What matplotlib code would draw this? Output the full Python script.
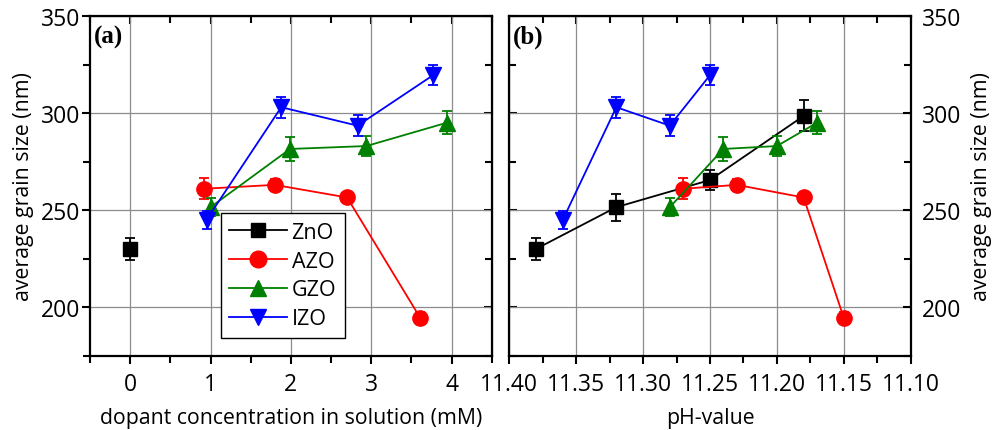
import matplotlib.pyplot as plt
from matplotlib.lines import Line2D
from matplotlib.ticker import MultipleLocator

plt.rcParams['font.family'] = ['Open Sans', 'DejaVu Sans']

# dopant concentration (mM) -> grain size (nm)
conc_zno = [0.0]
size_zno_a = [230]
err_zno_a = [5.5]

conc_azo = [0.92, 1.80, 2.70, 3.61]
size_azo = [261, 263, 256.5, 194.5]
err_azo = [5.5, 3, 3, 3]

conc_gzo = [1.00, 1.99, 2.94, 3.94]
size_gzo = [251.5, 281.5, 283, 295]
err_gzo = [4.5, 6, 5, 6]

conc_izo = [0.95, 1.88, 2.83, 3.77]
size_izo = [245, 303, 293.5, 319.5]
err_izo = [4.5, 5.5, 5.5, 5]

# pH value -> grain size (nm)
ph_zno = [11.38, 11.32, 11.25, 11.18]
size_zno_b = [230, 251.5, 265.5, 298.5]
err_zno_b = [5.5, 7, 5, 8]

ph_azo = [11.27, 11.23, 11.18, 11.15]
ph_gzo = [11.28, 11.24, 11.20, 11.17]
ph_izo = [11.36, 11.32, 11.28, 11.25]

labels = ["ZnO", "AZO", "GZO", "IZO"]
colors = ["black", "red", "green", "blue"]
markers = ["s", "o", "^", "v"]
msizes = [9.5, 11, 11, 11]

fig = plt.figure(figsize=(9.98, 4.31), dpi=100)
ax1 = fig.add_axes([0.0902, 0.1724, 0.4025, 0.7882])
ax2 = fig.add_axes([0.5103, 0.1724, 0.4022, 0.7882])


def series(ax, x, y, e, i, line=True):
    ax.errorbar(x, y, yerr=e, color=colors[i], marker=markers[i], ms=msizes[i],
                lw=1.3 if line else 0, elinewidth=1.3, capsize=3.8, capthick=1.3,
                zorder=3 + i)


series(ax1, conc_zno, size_zno_a, err_zno_a, 0, line=False)
series(ax1, conc_azo, size_azo, err_azo, 1)
series(ax1, conc_gzo, size_gzo, err_gzo, 2)
series(ax1, conc_izo, size_izo, err_izo, 3)

series(ax2, ph_zno, size_zno_b, err_zno_b, 0)
series(ax2, ph_azo, size_azo, err_azo, 1)
series(ax2, ph_gzo, size_gzo, err_gzo, 2)
series(ax2, ph_izo, size_izo, err_izo, 3)

ax1.set_xlim(-0.5, 4.5)
ax1.xaxis.set_major_locator(MultipleLocator(1))
ax1.xaxis.set_minor_locator(MultipleLocator(0.5))
ax2.set_xlim(11.40, 11.10)
ax2.xaxis.set_major_locator(MultipleLocator(0.05))
ax2.xaxis.set_minor_locator(MultipleLocator(0.025))
ax2.xaxis.set_major_formatter(plt.FormatStrFormatter('%.2f'))

for ax in (ax1, ax2):
    ax.set_ylim(175, 350)
    ax.yaxis.set_major_locator(MultipleLocator(50))
    ax.yaxis.set_minor_locator(MultipleLocator(25))
    ax.grid(True, which='major', color='#8c8c8c', lw=0.9)
    ax.set_axisbelow(True)
    for s in ax.spines.values():
        s.set_linewidth(1.6)
    ax.tick_params(which='both', direction='out', width=1.5, labelsize=16.5, pad=1)
    ax.tick_params(which='major', length=6)
    ax.tick_params(which='minor', length=5)
    top = ax.secondary_xaxis('top')
    top.xaxis.set_major_locator(ax.xaxis.get_major_locator())
    top.xaxis.set_minor_locator(ax.xaxis.get_minor_locator())
    top.tick_params(which='both', direction='in', width=1.5, labeltop=False)
    top.tick_params(which='major', length=6)
    top.tick_params(which='minor', length=5)

ax1.tick_params(axis='x', pad=6)
ax2.tick_params(axis='x', pad=6)

right1 = ax1.secondary_yaxis('right')
right1.yaxis.set_major_locator(MultipleLocator(50))
right1.yaxis.set_minor_locator(MultipleLocator(25))
right1.tick_params(which='both', direction='in', width=1.5, labelright=False)
right1.tick_params(which='major', length=6)
right1.tick_params(which='minor', length=5)

ax2.yaxis.tick_right()
ax2.yaxis.set_label_position('right')
ax2.tick_params(axis='y', which='both', direction='in', pad=8)
left2 = ax2.secondary_yaxis('left')
left2.yaxis.set_major_locator(MultipleLocator(50))
left2.yaxis.set_minor_locator(MultipleLocator(25))
left2.tick_params(which='both', direction='in', width=1.5, labelleft=False)
left2.tick_params(which='major', length=6)
left2.tick_params(which='minor', length=5)

ax1.set_xlabel("dopant concentration in solution (mM)", fontsize=15.3, labelpad=8)
ax2.set_xlabel("pH-value", fontsize=15.3, labelpad=8)
ax1.set_ylabel("average grain size (nm)", fontsize=15.3, labelpad=5)
ax2.set_ylabel("average grain size (nm)", fontsize=15.3, labelpad=7)

ax1.text(0.01, 0.975, "(a)", transform=ax1.transAxes, ha='left', va='top',
         family='Liberation Serif', fontweight='bold', fontsize=18)
ax2.text(0.01, 0.975, "(b)", transform=ax2.transAxes, ha='left', va='top',
         family='Liberation Serif', fontweight='bold', fontsize=18)

handles = [Line2D([], [], color=colors[i], marker=markers[i], ms=msizes[i] + 1, lw=1.3)
           for i in range(4)]
leg = ax1.legend(handles, labels, loc='upper left', bbox_to_anchor=(0.325, 0.419),
                 borderaxespad=0, fontsize=15.5, handlelength=2.7, labelspacing=0.36,
                 fancybox=False, framealpha=1, edgecolor='black', handletextpad=0.2,
                 borderpad=0.4)
leg.get_frame().set_linewidth(1.0)
leg.set_zorder(10)

fig.savefig("out.png", dpi=100)
